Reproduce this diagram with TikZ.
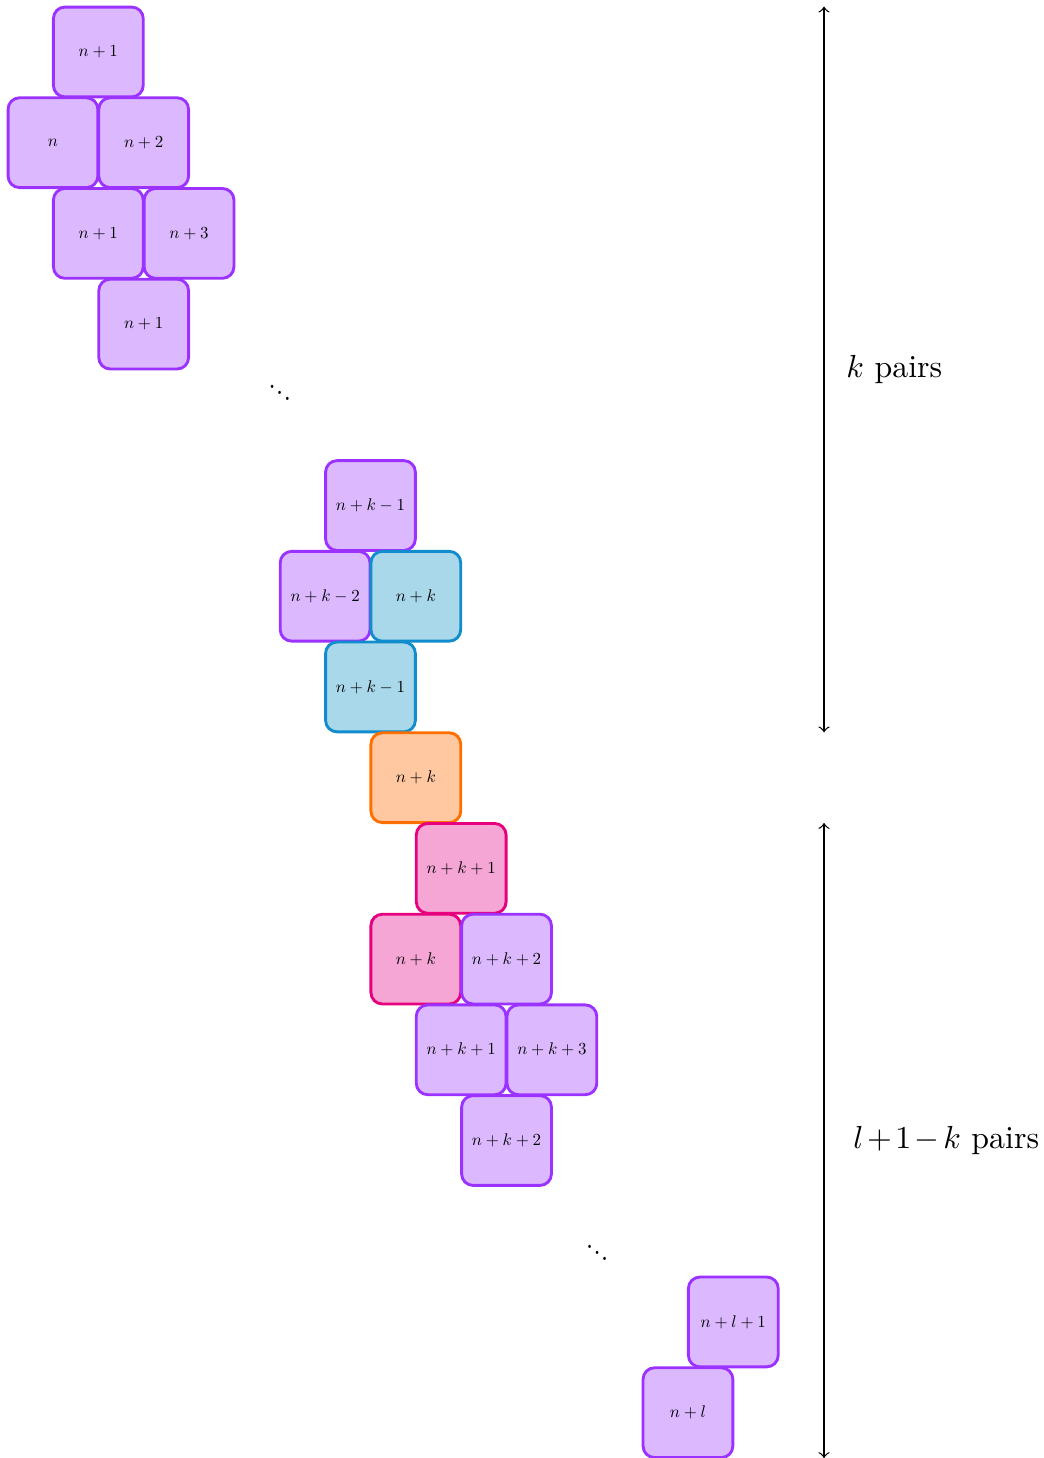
\documentclass[tikz,border=0pt]{standalone}
\usepackage{graphicx}
\definecolor{vfill}{HTML}{DCB9FF}
\definecolor{vline}{HTML}{9B32FF}
\definecolor{bfill}{HTML}{A8D8EA}
\definecolor{bline}{HTML}{118CCC}
\definecolor{ofill}{HTML}{FFC8A0}
\definecolor{oline}{HTML}{FF6F00}
\definecolor{pfill}{HTML}{F5A6D4}
\definecolor{pline}{HTML}{E6007E}
% small cell labels: full-size math scaled down
\newcommand{\celltext}[1]{\scalebox{0.53}{$#1$}}
\newcommand{\skipdots}{\scalebox{0.55}[0.65]{\bfseries$\ddots$}}
\tikzset{
  cell/.style={draw, rounded corners=3.6pt, line width=0.9pt, minimum size=0.99cm,
    inner sep=0pt},
  vcell/.style={cell, draw=vline, fill=vfill},
  bcell/.style={cell, draw=bline, fill=bfill},
  ocell/.style={cell, draw=oline, fill=ofill},
  pcell/.style={cell, draw=pline, fill=pfill},
  gap/.style={anchor=base, inner sep=0pt},
  span/.style={<->, line width=0.4pt},
  spanlabel/.style={anchor=west, inner sep=0pt}
}
\begin{document}
\begin{tikzpicture}
\useasboundingbox (-0.584,0.573) rectangle (10.916,-15.5);
% first block of k pairs
\node[vcell] (a0) at (0.5,0) {\celltext{n+1}};
\node[vcell] (a1) at (0,-1) {\celltext{n}};
\node[vcell] (a2) at (1,-1) {\celltext{n+2}};
\node[vcell] (a3) at (0.5,-2) {\celltext{n+1}};
\node[vcell] (a4) at (1.5,-2) {\celltext{n+3}};
\node[vcell] (a5) at (1,-3) {\celltext{n+1}};
\node[gap] (d1) at (2.5,-3.87) {\skipdots};
\node[vcell] (b0) at (3.5,-5) {\celltext{n+k-1}};
\node[vcell] (b1) at (3,-6) {\celltext{n+k-2}};
\node[bcell] (b2) at (4,-6) {\celltext{n+k}};
\node[bcell] (b3) at (3.5,-7) {\celltext{n+k-1}};
% middle cell
\node[ocell] (m) at (4,-8) {\celltext{n+k}};
% second block of l+1-k pairs
\node[pcell] (c0) at (4.5,-9) {\celltext{n+k+1}};
\node[pcell] (c1) at (4,-10) {\celltext{n+k}};
\node[vcell] (c2) at (5,-10) {\celltext{n+k+2}};
\node[vcell] (c3) at (4.5,-11) {\celltext{n+k+1}};
\node[vcell] (c4) at (5.5,-11) {\celltext{n+k+3}};
\node[vcell] (c5) at (5,-12) {\celltext{n+k+2}};
\node[gap] (d2) at (6,-13.35) {\skipdots};
\node[vcell] (e0) at (7.5,-14) {\celltext{n+l+1}};
\node[vcell] (e1) at (7,-15) {\celltext{n+l}};
% brackets on the right
\coordinate (s1) at (8.5,0.5);
\coordinate (t1) at (8.5,-7.5);
\coordinate (s2) at (8.5,-8.5);
\coordinate (t2) at (8.5,-15.5);
\draw[span] (s1) -- (t1);
\draw[span] (s2) -- (t2);
\node[spanlabel] (l1) at (8.74,-3.5) {$k$ pairs};
\node[spanlabel] (l2) at (8.817,-12) {{\medmuskip=2mu $l+1-k$} pairs};
\end{tikzpicture}
\end{document}
